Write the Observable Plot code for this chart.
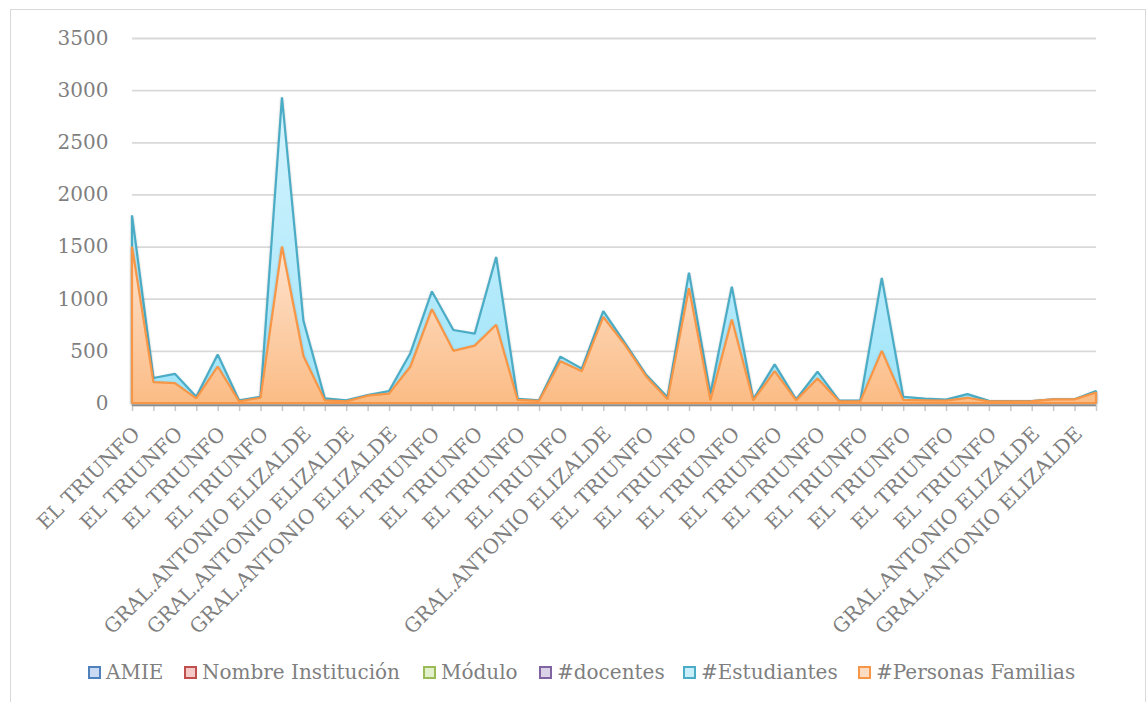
<!DOCTYPE html>
<html><head><meta charset="utf-8">
<script src="https://cdn.jsdelivr.net/npm/d3@7"></script>
<script src="https://cdn.jsdelivr.net/npm/@observablehq/plot@0.6"></script>
<style>
body{margin:0;background:#fff;font-family:"DejaVu Serif",serif;}
#wrap{position:relative;width:1146px;height:702px;overflow:hidden;background:#fff;}
#frame{position:absolute;left:10px;top:9px;width:1136px;height:720px;border:1.5px solid #d9d9d9;box-sizing:border-box;}
#chart{position:absolute;left:0;top:0;}
#legend{position:absolute;top:658px;left:0;width:1146px;height:30px;}
.item{position:absolute;top:0;height:28px;display:flex;align-items:center;font-size:20px;color:#7f7f7f;white-space:nowrap;}
.sw{width:9px;height:9px;border:2px solid;margin-right:5px;}
</style></head>
<body>
<div id="wrap"><div id="frame"></div><div id="chart"></div><div id="legend"></div></div>
<script>
const categories = [
 "EL TRIUNFO","EL TRIUNFO","EL TRIUNFO","EL TRIUNFO","EL TRIUNFO","EL TRIUNFO","EL TRIUNFO","EL TRIUNFO",
 "GRAL.ANTONIO ELIZALDE","GRAL.ANTONIO ELIZALDE","GRAL.ANTONIO ELIZALDE","GRAL.ANTONIO ELIZALDE","GRAL.ANTONIO ELIZALDE","GRAL.ANTONIO ELIZALDE",
 "EL TRIUNFO","EL TRIUNFO","EL TRIUNFO","EL TRIUNFO","EL TRIUNFO","EL TRIUNFO","EL TRIUNFO","EL TRIUNFO",
 "GRAL.ANTONIO ELIZALDE","GRAL.ANTONIO ELIZALDE",
 "EL TRIUNFO","EL TRIUNFO","EL TRIUNFO","EL TRIUNFO","EL TRIUNFO","EL TRIUNFO","EL TRIUNFO","EL TRIUNFO","EL TRIUNFO",
 "EL TRIUNFO","EL TRIUNFO","EL TRIUNFO","EL TRIUNFO","EL TRIUNFO","EL TRIUNFO","EL TRIUNFO","EL TRIUNFO","EL TRIUNFO",
 "GRAL.ANTONIO ELIZALDE","GRAL.ANTONIO ELIZALDE","GRAL.ANTONIO ELIZALDE","GRAL.ANTONIO ELIZALDE"
];
const estudiantes = [1800,240,280,60,465,25,60,2930,790,45,25,75,115,480,1070,700,665,1400,40,25,445,330,880,580,270,55,1250,90,1115,35,370,35,300,25,22,1200,60,42,32,85,20,18,18,35,35,115];
const personas = [1500,200,190,45,350,15,50,1500,450,25,15,70,90,350,900,500,550,750,30,20,400,305,825,560,255,35,1100,25,800,25,305,25,235,18,15,500,30,26,22,50,15,15,18,35,35,100];
const yTicks = [0,500,1000,1500,2000,2500,3000,3500];
const seriesNames = ["AMIE","Nombre Institución","Módulo","#docentes","#Estudiantes","#Personas Familias"];

// styles
const FONT = "'DejaVu Serif', serif";
const legendStroke = ["#4f81bd","#c0504d","#9bbb59","#8064a2","#4bacc6","#f79646"];
const legendFill = ["#c9daf2","#f5c9c8","#e3f0cc","#dcd2e8","#c8eff9","#fddcc4"];
const legendX = [88,184,423,539,683,858];

const data = d3.range(categories.length).map(i => ({i, cat: categories[i], est: estudiantes[i], per: personas[i]}));
const tickIdx = d3.range(categories.length);

const chart = Plot.plot({
  width: 1146, height: 640,
  marginLeft: 132, marginRight: 50, marginTop: 38, marginBottom: 237,
  style: {fontFamily: FONT, background: "transparent", overflow: "visible"},
  x: {type: "linear", domain: [0, categories.length - 1], axis: null, label: null},
  y: {domain: [0, 3500], axis: null, label: null},
  marks: [
    Plot.gridY(yTicks, {stroke: "#d9d9d9", strokeOpacity: 1, strokeWidth: 1.8}),
    Plot.axisY(yTicks, {tickSize: 0, tickPadding: 24, fontSize: 20, fontFamily: FONT, fill: "#7f7f7f", tickFormat: d => String(d), label: null}),
    Plot.areaY(data, {x: "i", y: "est", fill: "url(#gEst)", stroke: "#4bacc6", strokeWidth: 2.2, strokeLinejoin: "miter", className: "shad"}),
    Plot.areaY(data, {x: "i", y: "per", fill: "url(#gPer)", stroke: "#f79646", strokeWidth: 2.2, strokeLinejoin: "miter", className: "shad"}),
    Plot.axisX(tickIdx, {tickSize: 6, stroke: "#c8c8c8", strokeWidth: 1.5, dy: 2, tickFormat: () => "", label: null}),
    Plot.axisX(tickIdx, {
      tickSize: 0, tickPadding: 27, dx: 4,
      tickRotate: -45, fontSize: 20, fontFamily: FONT, fill: "#7f7f7f", label: null,
      tickFormat: i => (i % 2 === 0 ? categories[i] : "")
    }),
    Plot.ruleY([0], {stroke: "#8c8c8c", strokeWidth: 1.5, dy: 2})
  ]
});

const svg = d3.select(chart);
const defs = svg.insert("defs", ":first-child");
const gE = defs.append("linearGradient").attr("id", "gEst").attr("x1", 0).attr("y1", 0).attr("x2", 0).attr("y2", 1);
gE.append("stop").attr("offset", "0%").attr("stop-color", "#d6f4fe");
gE.append("stop").attr("offset", "100%").attr("stop-color", "#9fe4f9");
const gP = defs.append("linearGradient").attr("id", "gPer").attr("x1", 0).attr("y1", 0).attr("x2", 0).attr("y2", 1);
gP.append("stop").attr("offset", "0%").attr("stop-color", "#fee3cf");
gP.append("stop").attr("offset", "100%").attr("stop-color", "#fbbc85");
svg.selectAll("g.shad").style("filter", "drop-shadow(0px 1px 1.2px rgba(0,0,0,0.22))");

document.getElementById("chart").appendChild(chart);

const legend = d3.select("#legend");
seriesNames.forEach((name, k) => {
  const it = legend.append("div").attr("class", "item").style("left", legendX[k] + "px");
  it.append("div").attr("class", "sw").style("border-color", legendStroke[k]).style("background", legendFill[k]);
  it.append("span").text(name);
});
</script>
</body></html>
